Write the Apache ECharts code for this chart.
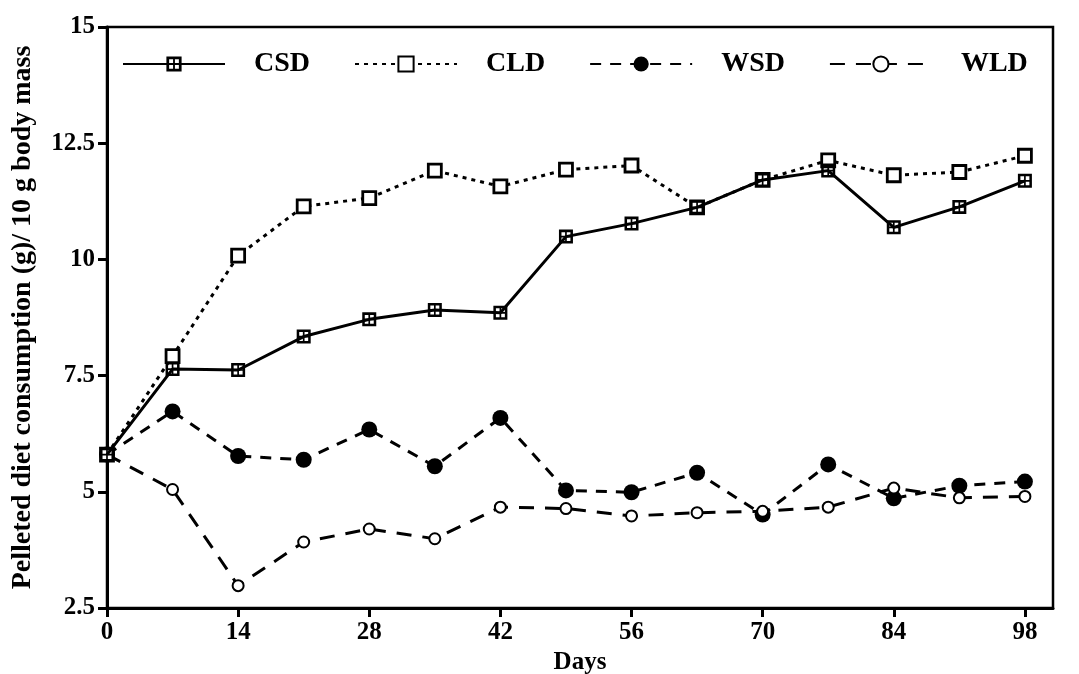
<!DOCTYPE html>
<html>
<head>
<meta charset="utf-8">
<script src="https://cdn.jsdelivr.net/npm/echarts@6/dist/echarts.min.js"></script>
<style>
  html, body { margin: 0; padding: 0; background: #fff; }
  #chart { width: 1079px; height: 674px; }
</style>
</head>
<body>
<div id="chart"></div>
<script>
// Sampling days (every 7 days over 14 weeks)
const days = [0, 7, 14, 21, 28, 35, 42, 49, 56, 63, 70, 77, 84, 91, 98];
const dayTicks = [0, 14, 28, 42, 56, 70, 84, 98];

// Pelleted diet consumption (g) per 10 g body mass
const csd = [5.8, 7.64, 7.62, 8.34, 8.71, 8.91, 8.85, 10.49, 10.77, 11.12, 11.71, 11.91, 10.69, 11.13, 11.69];
const cld = [5.8, 7.92, 10.08, 11.14, 11.32, 11.91, 11.57, 11.93, 12.02, 11.12, 11.71, 12.13, 11.81, 11.88, 12.23];
const wsd = [5.8, 6.73, 5.77, 5.69, 6.34, 5.55, 6.59, 5.03, 4.99, 5.41, 4.51, 5.59, 4.86, 5.13, 5.22];
const wld = [5.8, 5.05, 2.98, 3.92, 4.20, 3.99, 4.67, 4.64, 4.48, 4.55, 4.58, 4.67, 5.08, 4.87, 4.90];

const seriesNames = ['CSD', 'CLD', 'WSD', 'WLD'];

const FONT = '"Liberation Serif", "DejaVu Serif", serif';
// Square marker with a cross-hatched (⊞) interior
const hatchedSquare = 'path://M0,0 H10 V10 H0 Z M1.8,1.8 V4.4 H4.4 V1.8 Z M5.6,1.8 V4.4 H8.2 V1.8 Z M1.8,5.6 V8.2 H4.4 V5.6 Z M5.6,5.6 V8.2 H8.2 V5.6 Z';

const pairs = arr => days.map((d, i) => [d, arr[i]]);

const chart = echarts.init(document.getElementById('chart'), null, { renderer: 'canvas' });

chart.setOption({
  backgroundColor: '#fff',
  animation: false,
  grid: {
    left: 107, right: 26, top: 27, bottom: 66,
    outerBoundsMode: 'none',
    show: true, borderColor: '#000', borderWidth: 2.5, backgroundColor: 'transparent'
  },
  legend: {
    left: 117, top: 45,
    itemWidth: 102, itemHeight: 19, itemGap: 44,
    data: seriesNames,
    textStyle: {
      fontFamily: FONT, fontWeight: 'bold', fontSize: 28, color: '#000',
      padding: [0, 0, 0, 24]
    }
  },
  xAxis: {
    type: 'value', min: 0, max: 101,
    name: 'Days', nameLocation: 'middle', nameGap: 37,
    nameTextStyle: { fontFamily: FONT, fontWeight: 'bold', fontSize: 25, color: '#000' },
    axisLine: { lineStyle: { color: '#000', width: 3 } },
    axisTick: { show: true, length: 9, lineStyle: { color: '#000', width: 3 }, customValues: dayTicks },
    axisLabel: { fontFamily: FONT, fontWeight: 'bold', fontSize: 25, color: '#000', margin: 12, customValues: dayTicks },
    splitLine: { show: false }
  },
  yAxis: {
    type: 'value', min: 2.5, max: 15, interval: 2.5,
    name: 'Pelleted diet consumption (g)/ 10 g body mass',
    nameLocation: 'middle', nameGap: 70, nameRotate: 90,
    nameTextStyle: { fontFamily: FONT, fontWeight: 'bold', fontSize: 28, color: '#000' },
    axisLine: { show: true, lineStyle: { color: '#000', width: 3 } },
    axisTick: { show: true, length: 9, lineStyle: { color: '#000', width: 3 } },
    axisLabel: { fontFamily: FONT, fontWeight: 'bold', fontSize: 25, color: '#000', margin: 12 },
    splitLine: { show: false }
  },
  series: [
    {
      name: 'CSD', type: 'line', data: pairs(csd),
      symbol: hatchedSquare, symbolSize: 14,
      lineStyle: { color: '#000', width: 3, type: 'solid' },
      itemStyle: { color: '#000', borderWidth: 0 },
      z: 4
    },
    {
      name: 'CLD', type: 'line', data: pairs(cld),
      symbol: 'rect', symbolSize: 13,
      lineStyle: { color: '#000', width: 3, type: [4, 5] },
      itemStyle: { color: '#fff', borderColor: '#000', borderWidth: 2.8 },
      z: 3
    },
    {
      name: 'WSD', type: 'line', data: pairs(wsd),
      symbol: 'circle', symbolSize: 16,
      lineStyle: { color: '#000', width: 3, type: [11, 9] },
      itemStyle: { color: '#000', borderWidth: 0 },
      z: 2
    },
    {
      name: 'WLD', type: 'line', data: pairs(wld),
      symbol: 'emptyCircle', symbolSize: 11,
      lineStyle: { color: '#000', width: 3, type: [15, 11] },
      itemStyle: { color: '#000', borderColor: '#000', borderWidth: 2.8 },
      z: 2
    }
  ]
});
</script>
</body>
</html>
